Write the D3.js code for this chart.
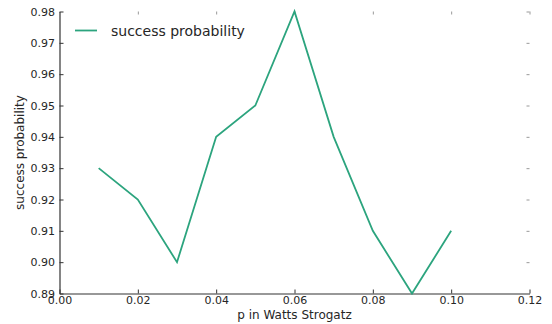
<!DOCTYPE html>
<html><head><meta charset="utf-8">
<script src="https://cdn.jsdelivr.net/npm/d3@7"></script>
<style>body{margin:0;background:#fff}svg{display:block}text{font-family:"DejaVu Sans",sans-serif}</style>
</head><body><svg id="c" width="552" height="324"></svg>
<script>
const pValues = [0.01,0.02,0.03,0.04,0.05,0.06,0.07,0.08,0.09,0.10];
const successProb = [0.93,0.92,0.90,0.94,0.95,0.98,0.94,0.91,0.89,0.91];
const xTicks = [0,0.02,0.04,0.06,0.08,0.10,0.12];
const yTicks = [0.89,0.90,0.91,0.92,0.93,0.94,0.95,0.96,0.97,0.98];
const seriesName = "success probability";

const svg = d3.select("#c");
const L=59.5,R=529.5,T=11.5,B=293.5;
const x = d3.scaleLinear().domain([0,0.12]).range([L,R]);
const y = d3.scaleLinear().domain([0.89,0.98]).range([B,T]);
const txt="#262626", sp="#333";

// bottom axis
const gx = svg.append("g").attr("transform",`translate(0,${B})`)
 .call(d3.axisBottom(x).tickValues(xTicks).tickFormat(d3.format(".2f")).tickSizeInner(-4).tickSizeOuter(0).tickPadding(3));
gx.select(".domain").attr("stroke",sp).attr("stroke-width",1.2);
gx.selectAll(".tick line").attr("stroke",sp);
gx.selectAll("text").attr("fill",txt).attr("font-size",11);
// left axis
const gy = svg.append("g").attr("transform",`translate(${L},0)`)
 .call(d3.axisLeft(y).tickValues(yTicks).tickFormat(d3.format(".2f")).tickSizeInner(-4).tickSizeOuter(0).tickPadding(4.5));
gy.select(".domain").attr("stroke",sp).attr("stroke-width",1.2);
gy.selectAll(".tick line").attr("stroke",sp);
gy.selectAll("text").attr("fill",txt).attr("font-size",11);
// top ticks (no spine)
const gt = svg.append("g").attr("transform",`translate(0,${T})`)
 .call(d3.axisTop(x).tickValues(xTicks.slice(1)).tickFormat("").tickSizeInner(-3).tickSizeOuter(0));
gt.select(".domain").remove();
gt.selectAll(".tick line").attr("stroke","#999");
// right ticks
const gr = svg.append("g").attr("transform",`translate(${R},0)`)
 .call(d3.axisRight(y).tickValues(yTicks.slice(1)).tickFormat("").tickSizeInner(-3).tickSizeOuter(0));
gr.select(".domain").remove();
gr.selectAll(".tick line").attr("stroke","#999");

// line
const color="#2ca47e";
svg.append("path").datum(pValues.map((p,i)=>[p,successProb[i]]))
 .attr("fill","none").attr("stroke",color).attr("stroke-width",1.8)
 .attr("d",d3.line().x(d=>x(d[0])).y(d=>y(d[1])));

// legend
svg.append("line").attr("x1",75).attr("x2",97).attr("y1",30.5).attr("y2",30.5).attr("stroke",color).attr("stroke-width",1.8);
svg.append("text").attr("x",111).attr("y",35.5).attr("font-size",14).attr("fill",txt).text(seriesName);

// axis labels
svg.append("text").attr("x",(L+R)/2).attr("y",319).attr("text-anchor","middle").attr("font-size",12).attr("fill",txt).text("p in Watts Strogatz");
svg.append("text").attr("transform",`translate(23.5,${(T+B)/2}) rotate(-90)`).attr("text-anchor","middle").attr("font-size",12).attr("fill",txt).text("success probability");
</script></body></html>
